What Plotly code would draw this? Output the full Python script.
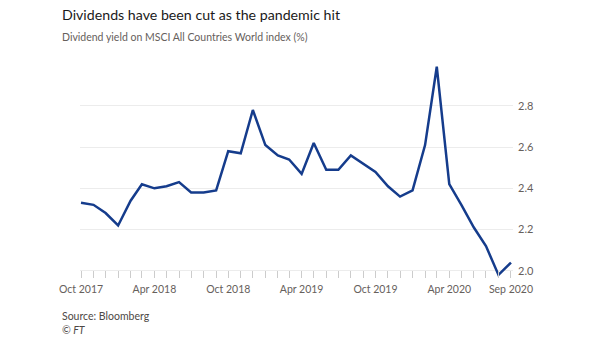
import plotly.graph_objects as go
import pandas as pd

months = pd.date_range("2017-10-01", "2020-09-01", freq="MS").strftime("%Y-%m-%d").tolist()
dividend_yield = [2.33, 2.32, 2.28, 2.22, 2.34, 2.42, 2.40, 2.41, 2.43, 2.38, 2.38, 2.39,
                  2.58, 2.57, 2.78, 2.61, 2.56, 2.54, 2.47, 2.62, 2.49, 2.49, 2.56, 2.52,
                  2.48, 2.41, 2.36, 2.39, 2.61, 2.99, 2.42, 2.32, 2.21, 2.12, 1.98, 2.04]

x_label_map = {"2017-10-01": "Oct 2017", "2018-04-01": "Apr 2018", "2018-10-01": "Oct 2018",
               "2019-04-01": "Apr 2019", "2019-10-01": "Oct 2019", "2020-04-01": "Apr 2020",
               "2020-09-01": "Sep 2020"}
y_tick_vals = [2.0, 2.2, 2.4, 2.6, 2.8]
y_tick_text = ["2.0", "2.2", "2.4", "2.6", "2.8"]

x_tick_vals = months
x_tick_text = [x_label_map.get(m, "") for m in months]

FONT = "Lato"
PW, PH = 433, 216

fig = go.Figure()
fig.add_trace(go.Scatter(x=months, y=dividend_yield, mode="lines",
                         line=dict(color="#153c8c", width=2.5), hoverinfo="skip"))

fig.update_layout(
    width=605, height=341,
    margin=dict(l=80, r=92, t=62, b=63),
    paper_bgcolor="white", plot_bgcolor="white",
    showlegend=False,
    font=dict(family=FONT, color="#66605c", size=11),
    xaxis=dict(
        type="date",
        range=["2017-09-28 12:00", "2020-09-06"],
        tickmode="array", tickvals=x_tick_vals, ticktext=x_tick_text,
        ticks="inside", ticklen=7, tickcolor="#cccccc", tickwidth=1,
        ticklabelstandoff=3,
        showgrid=False, zeroline=False, showline=False,
        tickfont=dict(family=FONT, size=10.5, color="#66605c"),
    ),
    yaxis=dict(
        side="right",
        range=[1.965, 3.013],
        tickvals=y_tick_vals, ticktext=y_tick_text,
        showgrid=True, gridcolor="#ececec", gridwidth=1,
        zeroline=False, showline=False, ticks="",
        ticklabelstandoff=4,
        tickfont=dict(family=FONT, size=11, color="#66605c"),
    ),
)

xl = -20 / PW
fig.add_annotation(text="Dividends have been cut as the pandemic hit", xref="paper", yref="paper",
                   x=xl, y=1 + (62 - 4) / PH, xanchor="left", yanchor="top", showarrow=False,
                   font=dict(family=FONT, size=14.2, color="#1a1a1a"))
fig.add_annotation(text="Dividend yield on MSCI All Countries World index (%)", xref="paper", yref="paper",
                   x=xl, y=1 + (62 - 29) / PH, xanchor="left", yanchor="top", showarrow=False,
                   font=dict(family=FONT, size=10.5, color="#66605c"))
fig.add_annotation(text="Source: Bloomberg", xref="paper", yref="paper",
                   x=xl, y=-(308 - 278) / PH, xanchor="left", yanchor="top", showarrow=False,
                   font=dict(family=FONT, size=10.5, color="#4d4845"))
fig.add_annotation(text="<i>© FT</i>", xref="paper", yref="paper",
                   x=xl, y=-(322 - 278) / PH, xanchor="left", yanchor="top", showarrow=False,
                   font=dict(family=FONT, size=10.5, color="#4d4845"))

fig.write_html("out.html")
